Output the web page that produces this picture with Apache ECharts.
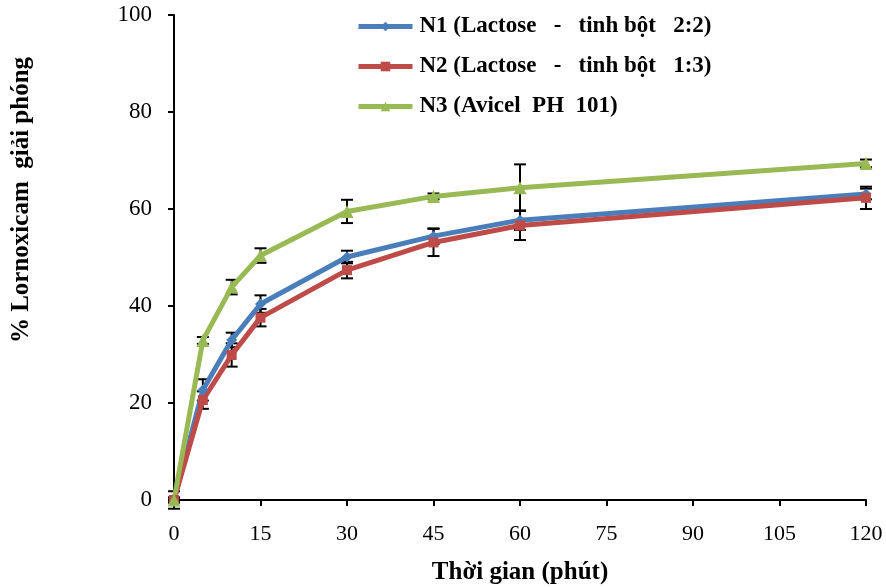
<!DOCTYPE html>
<html>
<head>
<meta charset="utf-8">
<script src="https://cdn.jsdelivr.net/npm/echarts@6/dist/echarts.min.js"></script>
<style>
  html, body { margin: 0; padding: 0; background: #fff; }
  #chart { width: 886px; height: 587px; }
</style>
</head>
<body>
<div id="chart"></div>
<script>
// Sampling times (minutes)
var times = [0, 5, 10, 15, 30, 45, 60, 120];

// Mean % released for each formulation
var n1Values = [0, 22.7, 33.0, 40.4, 50.1, 54.4, 57.7, 63.1];
var n2Values = [0, 20.6, 29.9, 37.6, 47.4, 53.1, 56.6, 62.3];
var n3Values = [0, 32.9, 43.9, 50.4, 59.5, 62.6, 64.4, 69.4];

// Standard deviations
var n1Err = [1.8, 2.2, 1.5, 1.8, 1.3, 1.6, 2.0, 1.1];
var n2Err = [0.5, 1.8, 2.4, 1.8, 1.7, 2.8, 3.0, 2.3];
var n3Err = [0.5, 0.7, 1.5, 1.5, 2.4, 0.6, 4.8, 0.8];

// Legend names
var seriesNames = [
  'N1 (Lactose   -   tinh b\u1ed9t   2:2)',
  'N2 (Lactose   -   tinh b\u1ed9t   1:3)',
  'N3 (Avicel  PH  101)'
];

var xTicks = [0, 15, 30, 45, 60, 75, 90, 105, 120];
var yTicks = [0, 20, 40, 60, 80, 100];

var colors = ['#4a7ebb', '#be4b48', '#98b954'];
var serif = '"Liberation Serif", "Times New Roman", serif';

function pairs(vals) {
  return times.map(function (t, i) { return [t, vals[i]]; });
}

function errData(vals, errs) {
  return times.map(function (t, i) { return [t, vals[i] - errs[i], vals[i] + errs[i]]; });
}

function errSeries(vals, errs) {
  return {
    type: 'custom',
    z: 1,
    silent: true,
    data: errData(vals, errs),
    renderItem: function (params, api) {
      var x = api.value(0);
      var lo = api.coord([x, api.value(1)]);
      var hi = api.coord([x, api.value(2)]);
      var w = 6;
      var st = { stroke: '#000', lineWidth: 2 };
      return {
        type: 'group',
        children: [
          { type: 'line', shape: { x1: lo[0], y1: lo[1], x2: hi[0], y2: hi[1] }, style: st },
          { type: 'line', shape: { x1: lo[0] - w, y1: lo[1], x2: lo[0] + w, y2: lo[1] }, style: st },
          { type: 'line', shape: { x1: hi[0] - w, y1: hi[1], x2: hi[0] + w, y2: hi[1] }, style: st }
        ]
      };
    }
  };
}

function lineSeries(name, vals, color, symbol, size) {
  return {
    name: name,
    type: 'line',
    z: 3,
    data: pairs(vals),
    symbol: symbol,
    symbolSize: size,
    showAllSymbol: true,
    lineStyle: { color: color, width: 5 },
    itemStyle: { color: color },
    emphasis: { disabled: true }
  };
}

var chart = echarts.init(document.getElementById('chart'));
chart.setOption({
  animation: false,
  backgroundColor: '#fff',
  grid: { left: 174, right: 20, top: 15, bottom: 87, containLabel: false, outerBoundsMode: 'none' },
  legend: {
    orient: 'vertical',
    left: 351,
    top: 10,
    itemWidth: 54,
    itemHeight: 12,
    itemGap: 17,
    data: seriesNames,
    lineStyle: { width: 5 },
    textStyle: { fontFamily: serif, fontWeight: 'bold', fontSize: 23, color: '#000', padding: [0, 0, 0, 2] }
  },
  xAxis: {
    type: 'value',
    min: 0,
    max: 120,
    interval: 15,
    name: 'Th\u1eddi gian (ph\u00fat)',
    nameLocation: 'middle',
    nameGap: 60,
    nameTextStyle: { fontFamily: serif, fontWeight: 'bold', fontSize: 25, color: '#000' },
    axisLine: { lineStyle: { color: '#000', width: 2 } },
    axisTick: { inside: false, length: 6, lineStyle: { color: '#000', width: 2 } },
    axisLabel: {
      fontFamily: serif, fontSize: 22, color: '#000', margin: 23,
      formatter: function (v) { return xTicks.indexOf(v) >= 0 ? String(v) : ''; }
    },
    splitLine: { show: false }
  },
  yAxis: {
    type: 'value',
    min: 0,
    max: 100,
    interval: 20,
    axisLine: { show: true, lineStyle: { color: '#000', width: 2 } },
    axisTick: { show: true, inside: false, length: 6, lineStyle: { color: '#000', width: 2 } },
    axisLabel: {
      fontFamily: serif, fontSize: 23, color: '#000', margin: 22,
      formatter: function (v) { return yTicks.indexOf(v) >= 0 ? String(v) : ''; }
    },
    splitLine: { show: false }
  },
  graphic: [{
    type: 'text',
    x: 22,
    y: 200,
    rotation: Math.PI / 2,
    style: {
      text: '% Lornoxicam  gi\u1ea3i ph\u00f3ng',
      fontFamily: serif,
      fontWeight: 'bold',
      fontSize: 25,
      fill: '#000',
      align: 'center',
      verticalAlign: 'middle'
    }
  }],
  series: [
    errSeries(n1Values, n1Err),
    errSeries(n2Values, n2Err),
    errSeries(n3Values, n3Err),
    lineSeries(seriesNames[0], n1Values, colors[0], 'diamond', 11),
    lineSeries(seriesNames[1], n2Values, colors[1], 'rect', 10),
    lineSeries(seriesNames[2], n3Values, colors[2], 'triangle', 13)
  ]
});
</script>
</body>
</html>
